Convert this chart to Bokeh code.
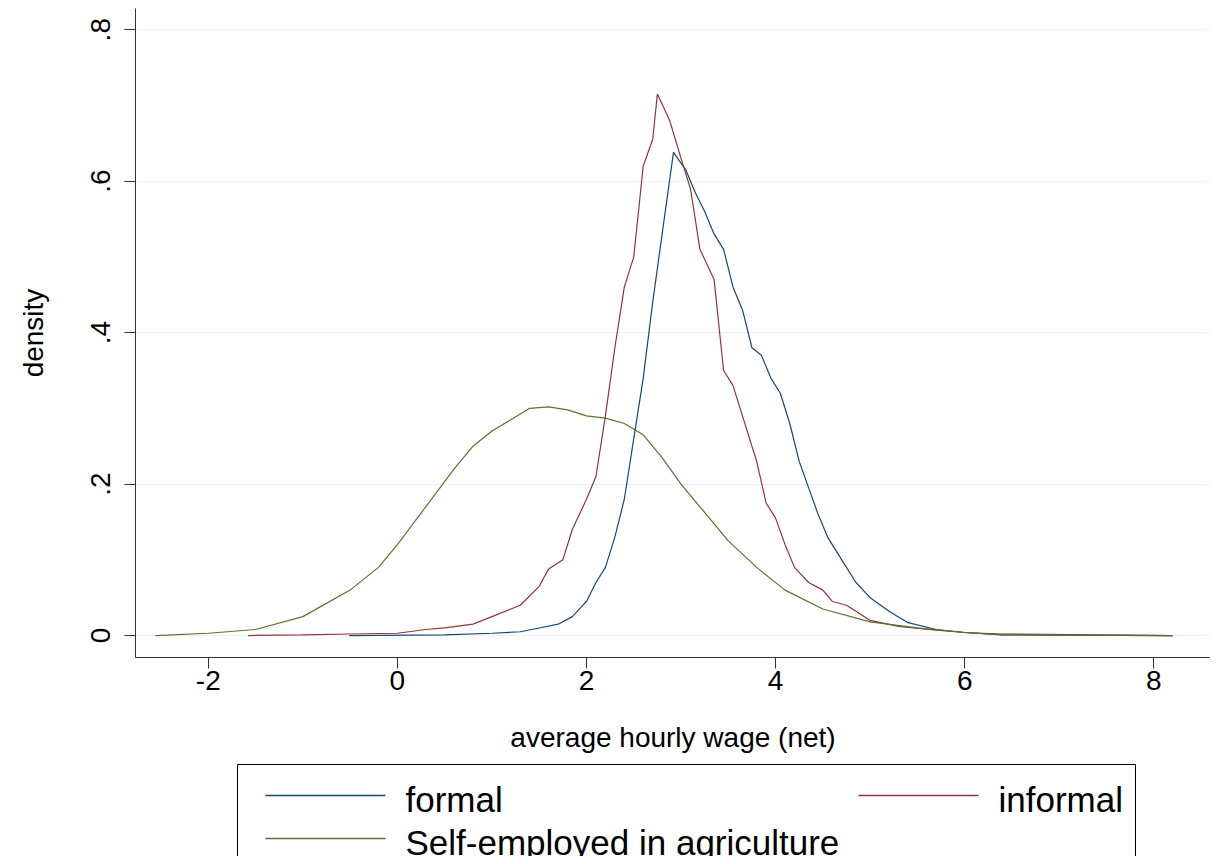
from bokeh.plotting import figure
from bokeh.models import Range1d, FixedTicker
from bokeh.layouts import column
from bokeh.core.properties import value
from bokeh.embed import file_html
from bokeh.resources import INLINE

formal_x = [-0.51, 0.5, 1.0, 1.3, 1.5, 1.7, 1.85, 2.0, 2.1, 2.2, 2.3, 2.4, 2.5, 2.6, 2.7, 2.8, 2.92, 3.05, 3.15, 3.25, 3.35, 3.45, 3.55, 3.65, 3.75, 3.85, 3.95, 4.05, 4.15, 4.25, 4.35, 4.45, 4.55, 4.7, 4.85, 5.0, 5.2, 5.4, 5.7, 6.0, 6.4, 8.2]
formal_y = [0, 0.001, 0.003, 0.005, 0.01, 0.015, 0.025, 0.045, 0.07, 0.09, 0.13, 0.18, 0.26, 0.34, 0.44, 0.53, 0.638, 0.615, 0.585, 0.56, 0.53, 0.51, 0.46, 0.43, 0.38, 0.37, 0.34, 0.32, 0.28, 0.23, 0.195, 0.16, 0.13, 0.1, 0.07, 0.05, 0.032, 0.017, 0.008, 0.004, 0.001, 0]

informal_x = [-1.58, -1.0, -0.5, 0.0, 0.3, 0.5, 0.8, 1.0, 1.3, 1.5, 1.6, 1.75, 1.85, 2.0, 2.1, 2.2, 2.3, 2.4, 2.5, 2.6, 2.7, 2.75, 2.88, 3.0, 3.1, 3.2, 3.35, 3.45, 3.55, 3.7, 3.8, 3.9, 4.0, 4.1, 4.2, 4.35, 4.5, 4.6, 4.75, 4.9, 5.0, 5.3, 5.7, 6.0, 6.4, 8.2]
informal_y = [0, 0.001, 0.002, 0.003, 0.008, 0.01, 0.015, 0.025, 0.04, 0.065, 0.088, 0.1, 0.14, 0.18, 0.21, 0.29, 0.38, 0.46, 0.5, 0.62, 0.655, 0.715, 0.68, 0.63, 0.59, 0.51, 0.47, 0.35, 0.33, 0.27, 0.23, 0.175, 0.155, 0.12, 0.09, 0.07, 0.06, 0.045, 0.04, 0.028, 0.02, 0.012, 0.007, 0.004, 0.002, 0]

agri_x = [-2.56, -2.0, -1.5, -1.0, -0.5, -0.2, 0.0, 0.3, 0.6, 0.8, 1.0, 1.2, 1.4, 1.6, 1.8, 2.0, 2.2, 2.4, 2.6, 2.8, 3.0, 3.2, 3.5, 3.8, 4.1, 4.5, 5.0, 5.5, 6.0, 6.4, 8.2]
agri_y = [0, 0.003, 0.008, 0.025, 0.06, 0.09, 0.12, 0.17, 0.22, 0.25, 0.27, 0.285, 0.3, 0.302, 0.298, 0.29, 0.287, 0.28, 0.265, 0.235, 0.2, 0.17, 0.125, 0.09, 0.06, 0.035, 0.018, 0.01, 0.004, 0.001, 0]

series_labels = ["formal", "informal", "Self-employed in agriculture"]
series_colors = ["#1a476f", "#90353b", "#55752f"]

x_ticks = [-2, 0, 2, 4, 6, 8]
x_tick_labels = {-2: "-2", 0: "0", 2: "2", 4: "4", 6: "6", 8: "8"}
y_ticks = [0, 0.2, 0.4, 0.6, 0.8]
y_tick_labels = {0: "0", 0.2: ".2", 0.4: ".4", 0.6: ".6", 0.8: ".8"}

FONT = "Liberation Sans"
p = figure(width=1210, height=756, output_backend="svg", toolbar_location=None,
           x_range=Range1d(-2.77, 8.6), y_range=Range1d(-0.029, 0.828),
           min_border_left=135, min_border_right=0, min_border_top=8, min_border_bottom=99)
p.outline_line_color = None
p.background_fill_color = "white"
p.border_fill_color = "white"

for xs, ys, c in zip([formal_x, informal_x, agri_x], [formal_y, informal_y, agri_y], series_colors):
    p.line(xs, ys, line_color=c, line_width=1.2)

p.xgrid.grid_line_color = None
p.ygrid.grid_line_color = "#eaf2f3"
p.ygrid.ticker = FixedTicker(ticks=y_ticks)

for ax in (p.xaxis[0], p.yaxis[0]):
    ax.axis_line_color = "#333333"
    ax.major_tick_line_color = "#333333"
    ax.minor_tick_line_color = None
    ax.major_tick_out = 11
    ax.major_tick_in = 0
    ax.major_label_text_font = FONT
    ax.major_label_text_font_size = "28px"
    ax.major_label_text_color = "black"
    ax.axis_label_text_font = FONT
    ax.axis_label_text_font_size = "28px"
    ax.axis_label_text_font_style = "normal"
    ax.axis_label_text_color = "black"

p.xaxis.ticker = FixedTicker(ticks=x_ticks)
p.xaxis.major_label_overrides = x_tick_labels
p.xaxis.major_label_standoff = 2
p.xaxis.axis_label = "average hourly wage (net)"
p.xaxis.axis_label_standoff = 29
p.yaxis.ticker = FixedTicker(ticks=y_ticks)
p.yaxis.major_label_overrides = y_tick_labels
p.yaxis.major_label_orientation = "vertical"
p.yaxis.major_label_standoff = 14
p.yaxis.axis_label = "density"
p.yaxis.axis_label_standoff = 40

# legend panel: frame aligned with the chart frame (x from 135 to 1210), y downward
LH = 100
lg = figure(width=1210, height=LH, output_backend="svg", toolbar_location=None,
            x_range=Range1d(135, 1210), y_range=Range1d(LH, 0),
            min_border_left=135, min_border_right=0, min_border_top=0, min_border_bottom=0,
            outline_line_color=None)
lg.axis.visible = False
lg.grid.visible = False
lg.quad(left=[237], right=[1135], top=[8], bottom=[200], fill_color="white",
        line_color="black", line_width=1)
gx0 = [265, 858, 265]
gy = [39, 39, 82]
tx = [405, 998, 405]
for x0, y, t, lab, c in zip(gx0, gy, tx, series_labels, series_colors):
    lg.line([x0, x0 + 120], [y, y], line_color=c, line_width=1.3)
    lg.text(x=[t], y=[y + 4], text=[lab], text_font=value(FONT),
            text_font_size="35px", text_baseline="middle", text_align="left", text_color="black")

open("out.html", "w").write(file_html(column(p, lg, spacing=0), INLINE))
